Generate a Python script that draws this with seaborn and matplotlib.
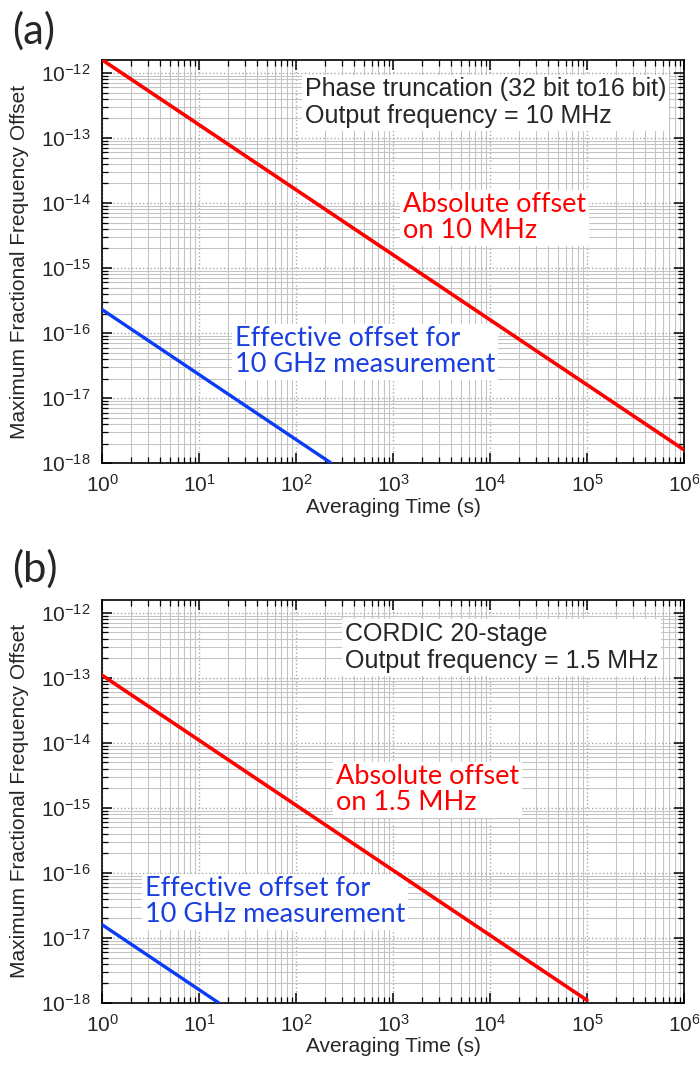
import numpy as np
import pandas as pd
import seaborn as sns
import matplotlib.pyplot as plt
from matplotlib.ticker import LogLocator, NullFormatter

# endpoints of the straight lines (log-log, slope -1)
tau_a_abs = [1, 1e6]
off_a_abs = [1.6e-12, 1.6e-18]
tau_a_eff = [1, 230]
off_a_eff = [2.3e-16, 1.0e-18]

tau_b_abs = [1, 1e5]
off_b_abs = [1.1e-13, 1.1e-18]
tau_b_eff = [1, 16]
off_b_eff = [1.6e-17, 1.0e-18]

panel_labels = ["(a)", "(b)"]
info_text = ["Phase truncation (32 bit to16 bit)\nOutput frequency = 10 MHz",
             "CORDIC 20-stage\nOutput frequency = 1.5 MHz"]
abs_text = ["Absolute offset\non 10 MHz", "Absolute offset\non 1.5 MHz"]
eff_text = ["Effective offset for\n10 GHz measurement",
            "Effective offset for\n10 GHz measurement"]

sns.set_style("ticks")
plt.rcParams["font.family"] = ["Liberation Sans", "DejaVu Sans"]
plt.rcParams["mathtext.fontset"] = "custom"
plt.rcParams["mathtext.rm"] = "Liberation Sans"
plt.rcParams["mathtext.it"] = "Liberation Sans"

RED = "#ff0000"
BLUE = "#0a3cf5"
BLUE_TXT = "#1a3fe0"

fig = plt.figure(figsize=(6.99, 10.72), dpi=100)
ax_a = fig.add_axes([0.146, 0.568, 0.8326, 0.376])
ax_b = fig.add_axes([0.146, 0.0644, 0.8326, 0.376])

data = [
    (ax_a, tau_a_abs, off_a_abs, tau_a_eff, off_a_eff),
    (ax_b, tau_b_abs, off_b_abs, tau_b_eff, off_b_eff),
]

for ax, ta, oa, te, oe in data:
    df_abs = pd.DataFrame({"tau": ta, "offset": oa})
    df_eff = pd.DataFrame({"tau": te, "offset": oe})
    ax.set_xscale("log")
    ax.set_yscale("log")
    sns.lineplot(data=df_abs, x="tau", y="offset", ax=ax, color=RED, lw=2.6,
                 zorder=3)
    sns.lineplot(data=df_eff, x="tau", y="offset", ax=ax, color=BLUE, lw=2.4,
                 zorder=3)
    ax.set_xlim(1, 1e6)
    ax.set_ylim(1e-18, 10 ** -11.8)
    ax.xaxis.set_major_locator(LogLocator(base=10, numticks=20))
    ax.yaxis.set_major_locator(LogLocator(base=10, numticks=20))
    ax.xaxis.set_minor_locator(LogLocator(base=10, subs=np.arange(2, 10), numticks=100))
    ax.yaxis.set_minor_locator(LogLocator(base=10, subs=np.arange(2, 10), numticks=100))
    ax.xaxis.set_minor_formatter(NullFormatter())
    ax.yaxis.set_minor_formatter(NullFormatter())
    ax.grid(which="major", color="#a8a8a8", ls=":", lw=1.0)
    ax.grid(which="minor", color="#c4c4c4", ls="-", lw=0.75)
    ax.set_axisbelow(True)
    ax.tick_params(which="both", direction="in", top=True, right=True,
                   color="black")
    ax.tick_params(which="major", length=7, width=1.1, labelsize=15, pad=8)
    ax.tick_params(which="minor", length=4, width=0.9)
    for s in ax.spines.values():
        s.set_color("black")
        s.set_linewidth(1.2)
    ax.set_xlabel("Averaging Time (s)", fontsize=15, labelpad=1)
    ax.set_ylabel("Maximum Fractional Frequency Offset", fontsize=15)
    ax.yaxis.set_label_coords(-0.125, 0.5)

box = dict(facecolor="white", edgecolor="none", pad=2)
ann_font = ["Lato", "DejaVu Sans"]

# panel (a) texts
ax_a.text(0.349, 0.957, info_text[0], transform=ax_a.transAxes, va="top",
          ha="left", fontsize=18, linespacing=1.15, bbox=box, zorder=2)
ax_a.text(0.517, 0.672, abs_text[0], transform=ax_a.transAxes, va="top",
          ha="left", fontsize=19.5, color=RED, family=ann_font,
          linespacing=1.05, bbox=box, zorder=2)
ax_a.text(0.2285, 0.339, eff_text[0], transform=ax_a.transAxes, va="top",
          ha="left", fontsize=19.5, color=BLUE_TXT, family=ann_font,
          linespacing=1.05, bbox=box, zorder=2)

# panel (b) texts
ax_b.text(0.4175, 0.945, info_text[1], transform=ax_b.transAxes, va="top",
          ha="left", fontsize=18, linespacing=1.15, bbox=box, zorder=2)
ax_b.text(0.402, 0.592, abs_text[1], transform=ax_b.transAxes, va="top",
          ha="left", fontsize=19.5, color=RED, family=ann_font,
          linespacing=1.05, bbox=box, zorder=2)
ax_b.text(0.074, 0.314, eff_text[1], transform=ax_b.transAxes, va="top",
          ha="left", fontsize=19.5, color=BLUE_TXT, family=ann_font,
          linespacing=1.05, bbox=box, zorder=2)

fig.text(0.017, 0.959, panel_labels[0], va="baseline", ha="left",
         fontsize=30, family=ann_font)
fig.text(0.017, 0.4575, panel_labels[1], va="baseline", ha="left",
         fontsize=30, family=ann_font)

fig.savefig("out.png", dpi=100)
